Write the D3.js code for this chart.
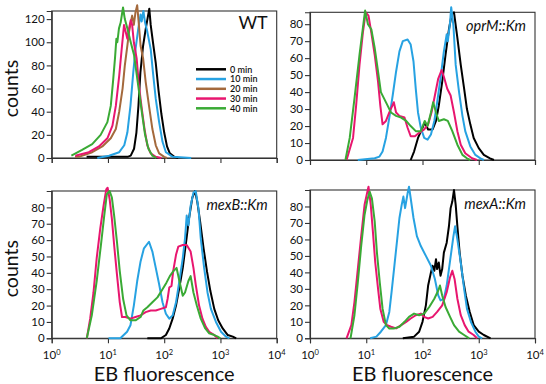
<!DOCTYPE html>
<html><head><meta charset="utf-8">
<script src="https://cdn.jsdelivr.net/npm/d3@7"></script>
<style>
body{margin:0;background:#fff}
svg{display:block}
text{font-family:Lato,"Open Sans",sans-serif;fill:#111}
</style>
</head><body><svg id="c" width="546" height="384"></svg>
<script>
// ---- categories / labels ----
const times = ["0 min","10 min","20 min","30 min","40 min"];
const colors = ["#000000","#27a2e2","#a4693c","#e8166f","#3aaa35"];
const xTickValues = [1,10,100,1000,10000];
const xTickExp = ["0","1","2","3","4"];
const wtTicks = [0,20,40,60,80,100,120];
const mutTicks = [0,10,20,30,40,50,60,70,80];

// ---- data: [log10(EB fluorescence), counts] ----
const wt0 = [[0.62,1],[0.9,1],[1.1,1],[1.25,1],[1.35,1],[1.405,2],[1.464,8],[1.506,22],[1.542,45],[1.577,74],[1.625,97],[1.673,112],[1.72,125],[1.735,129],[1.76,115],[1.80,100],[1.85,82],[1.90,58],[1.95,38],[2.0,22],[2.05,10],[2.10,4],[2.18,1],[2.25,0]];
const wt10 = [[0.81,0],[1.02,2],[1.2,5],[1.29,11],[1.345,22],[1.40,45],[1.45,74],[1.49,94],[1.54,112],[1.58,124],[1.60,118],[1.63,127],[1.66,117],[1.70,109],[1.76,94],[1.80,74],[1.85,51],[1.91,31],[1.97,14],[2.03,5],[2.15,1],[2.48,0]];
const wt20 = [[0.415,1],[0.48,1],[0.72,5],[0.9,10],[1.05,17],[1.14,25],[1.2,40],[1.26,60],[1.30,80],[1.345,97],[1.375,109],[1.405,117],[1.43,123],[1.46,115],[1.49,126],[1.52,132],[1.55,115],[1.58,97],[1.625,86],[1.67,66],[1.73,45],[1.79,25],[1.85,11],[1.91,4],[2.0,1],[2.05,0]];
const wt30 = [[0.42,2],[0.66,5],[0.84,10],[0.99,17],[1.08,28],[1.14,45],[1.2,71],[1.24,92],[1.286,115],[1.315,109],[1.345,103],[1.375,112],[1.405,119],[1.43,115],[1.46,100],[1.51,86],[1.55,63],[1.60,43],[1.65,25],[1.70,11],[1.76,4],[1.85,1],[1.95,0]];
const wt40 = [[0.35,2],[0.54,7],[0.72,12],[0.87,20],[0.99,31],[1.05,45],[1.09,66],[1.125,86],[1.15,103],[1.167,100],[1.196,112],[1.226,117],[1.268,130],[1.30,120],[1.345,112],[1.405,100],[1.464,89],[1.506,74],[1.554,57],[1.61,37],[1.66,20],[1.72,8],[1.79,2],[1.86,0]];

const oprM0 = [[1.79,0],[1.85,5],[1.92,13],[2.0,19],[2.04,22],[2.1,18],[2.18,18],[2.24,23],[2.29,32],[2.35,46],[2.41,62],[2.47,77],[2.52,86],[2.56,87],[2.62,72],[2.68,56],[2.74,42],[2.79,30],[2.85,21],[2.91,13],[3.0,7],[3.09,3],[3.2,1],[3.27,0]];
const oprM10 = [[0.85,0],[1.15,1],[1.235,2],[1.29,5],[1.35,13],[1.41,25],[1.47,38],[1.53,52],[1.59,64],[1.65,70],[1.735,71],[1.79,68],[1.84,58],[1.88,42],[1.92,28],[1.97,19],[2.03,13],[2.09,12],[2.15,15],[2.21,23],[2.26,34],[2.32,48],[2.38,64],[2.43,74],[2.45,70],[2.49,81],[2.51,90],[2.55,79],[2.59,56],[2.65,40],[2.71,26],[2.76,17],[2.85,8],[2.94,3],[3.03,1],[3.09,0]];
const oprM30 = [[0.65,0],[0.765,13],[0.82,32],[0.88,56],[0.94,75],[0.99,87],[1.04,85],[1.09,75],[1.15,62],[1.21,46],[1.25,32],[1.29,21],[1.35,23],[1.41,28],[1.49,34],[1.53,28],[1.59,26],[1.68,25],[1.735,19],[1.79,14],[1.865,14],[1.94,16],[2.03,18],[2.1,21],[2.16,28],[2.22,38],[2.28,48],[2.34,53],[2.38,49],[2.44,42],[2.5,38],[2.56,28],[2.62,17],[2.68,9],[2.76,4],[2.88,1],[2.97,0]];
const oprM40 = [[0.63,0],[0.706,13],[0.79,36],[0.88,62],[0.96,83],[0.98,88],[1.03,80],[1.09,77],[1.15,66],[1.21,52],[1.26,40],[1.32,36],[1.38,32],[1.44,28],[1.53,26],[1.62,25],[1.71,23],[1.79,20],[1.88,17],[1.97,17],[2.04,23],[2.09,20],[2.15,28],[2.19,34],[2.24,28],[2.29,23],[2.38,24],[2.45,23],[2.53,17],[2.62,9],[2.71,3],[2.79,1],[2.85,0]];

const mexB0 = [[1.70,0],[1.94,0],[2.03,2],[2.09,6],[2.15,12],[2.21,20],[2.27,31],[2.33,43],[2.39,59],[2.44,73],[2.50,86],[2.55,90],[2.59,83],[2.64,71],[2.70,55],[2.76,41],[2.82,29],[2.89,18],[2.96,11],[3.04,6],[3.13,2],[3.22,1],[3.28,0]];
const mexB10 = [[1.01,0],[1.22,0],[1.34,4],[1.40,8],[1.46,20],[1.52,35],[1.58,47],[1.64,55],[1.73,59],[1.79,53],[1.85,43],[1.91,33],[1.97,22],[2.03,15],[2.09,12],[2.15,14],[2.21,22],[2.27,35],[2.33,49],[2.37,61],[2.40,75],[2.43,69],[2.47,81],[2.52,89],[2.56,90],[2.61,79],[2.65,61],[2.71,43],[2.77,28],[2.83,18],[2.92,10],[3.01,4],[3.10,1],[3.16,0]];
const mexB30 = [[0.624,0],[0.684,12],[0.743,28],[0.80,49],[0.863,67],[0.922,81],[0.97,91],[0.994,92],[1.03,85],[1.07,73],[1.11,57],[1.16,39],[1.21,22],[1.25,13],[1.31,13],[1.40,12],[1.49,13],[1.58,14],[1.67,16],[1.76,17],[1.85,17],[1.94,18],[2.03,19],[2.06,24],[2.09,31],[2.13,32],[2.16,41],[2.21,51],[2.25,56],[2.33,57],[2.40,57],[2.47,53],[2.52,43],[2.56,33],[2.62,20],[2.68,12],[2.74,7],[2.80,4],[2.89,2],[2.95,0]];
const mexB40 = [[0.624,0],[0.713,14],[0.80,35],[0.875,57],[0.934,75],[0.98,88],[1.03,90],[1.07,86],[1.11,75],[1.16,59],[1.21,41],[1.27,24],[1.33,14],[1.40,11],[1.49,11],[1.58,13],[1.63,17],[1.70,19],[1.79,22],[1.88,25],[1.97,30],[2.04,34],[2.10,38],[2.16,41],[2.22,43],[2.27,35],[2.33,26],[2.37,28],[2.43,35],[2.47,38],[2.52,28],[2.58,20],[2.65,12],[2.73,6],[2.80,3],[2.89,2],[2.95,1],[3.0,0]];

const mexA0 = [[1.65,0],[1.85,1],[1.94,4],[2.0,10],[2.06,20],[2.10,32],[2.15,40],[2.18,44],[2.21,41],[2.24,48],[2.26,42],[2.29,46],[2.32,38],[2.35,42],[2.38,52],[2.43,58],[2.47,68],[2.5,79],[2.53,83],[2.56,90],[2.59,81],[2.62,68],[2.66,52],[2.71,38],[2.77,26],[2.84,16],[2.91,8],[3.0,4],[3.09,2],[3.21,0]];
const mexA10 = [[1.07,0],[1.18,1],[1.26,4],[1.35,8],[1.41,16],[1.45,28],[1.50,44],[1.55,60],[1.59,73],[1.63,81],[1.66,86],[1.69,79],[1.735,88],[1.76,92],[1.79,85],[1.84,73],[1.90,62],[1.97,56],[2.06,50],[2.15,44],[2.22,36],[2.28,26],[2.32,23],[2.38,24],[2.43,32],[2.47,42],[2.51,52],[2.55,62],[2.58,68],[2.62,60],[2.68,46],[2.74,30],[2.79,18],[2.86,10],[2.94,4],[3.0,1],[3.06,0]];
const mexA30 = [[0.65,0],[0.735,8],[0.79,22],[0.85,42],[0.91,62],[0.97,81],[1.02,89],[1.04,92],[1.08,81],[1.12,64],[1.16,46],[1.21,30],[1.25,18],[1.31,10],[1.37,8],[1.44,7],[1.53,6],[1.62,8],[1.71,10],[1.79,12],[1.88,14],[1.97,15],[2.03,13],[2.10,12],[2.18,13],[2.26,16],[2.35,20],[2.43,28],[2.49,37],[2.53,41],[2.57,36],[2.62,24],[2.68,14],[2.75,8],[2.82,4],[2.91,2],[2.97,0]];
const mexA40 = [[0.72,0],[0.79,14],[0.85,34],[0.91,56],[0.97,75],[1.02,84],[1.06,89],[1.10,85],[1.15,71],[1.19,52],[1.24,34],[1.29,18],[1.35,8],[1.41,6],[1.50,6],[1.59,7],[1.68,10],[1.76,13],[1.85,15],[1.94,14],[2.03,15],[2.12,19],[2.21,24],[2.28,29],[2.31,32],[2.35,26],[2.41,19],[2.49,13],[2.56,8],[2.65,4],[2.74,2],[2.83,0]];

// ---- panels ----
const panels = [
  {label:"WT", italic:false, series:[wt0,wt10,wt20,wt30,wt40], keys:[0,1,2,3,4], yMax:127, yTicks:wtTicks,
   left:51.7, right:276.7, top:11, bottom:158, xLabels:false, yTitle:true, legend:true},
  {label:"oprM::Km", italic:true, series:[oprM0,oprM10,oprM30,oprM40], keys:[0,1,3,4], yMax:87, yTicks:mutTicks,
   left:310, right:535, top:12.3, bottom:160, xLabels:false, yTitle:false, legend:false},
  {label:"mexB::Km", italic:true, series:[mexB0,mexB10,mexB30,mexB40], keys:[0,1,3,4], yMax:90, yTicks:mutTicks,
   left:51.7, right:276.7, top:191, bottom:338.3, xLabels:true, yTitle:true, legend:false},
  {label:"mexA::Km", italic:true, series:[mexA0,mexA10,mexA30,mexA40], keys:[0,1,3,4], yMax:90, yTicks:mutTicks,
   left:310, right:535, top:190, bottom:338.3, xLabels:true, yTitle:false, legend:false}
];

const svg = d3.select("#c");

panels.forEach(p => {
  const x = d3.scaleLog().domain([1,10000]).range([p.left,p.right]);
  const y = d3.scaleLinear().domain([0,p.yMax]).range([p.bottom,p.top]);
  const g = svg.append("g");

  // frame
  g.append("rect").attr("x",p.left).attr("y",p.top)
    .attr("width",p.right-p.left).attr("height",p.bottom-p.top)
    .attr("fill","none").attr("stroke","#333").attr("stroke-width",1.1);

  // y axis
  const ya = g.append("g").attr("transform",`translate(${p.left},0)`)
    .call(d3.axisLeft(y).tickValues(p.yTicks).tickSize(5).tickPadding(2));
  ya.select(".domain").attr("stroke","#333").attr("stroke-width",1.1);
  ya.selectAll(".tick line").attr("stroke","#333").attr("stroke-width",1.1);
  ya.selectAll(".tick text").attr("font-size",11.5).attr("font-family","Lato, sans-serif").attr("fill","#111");

  // x axis
  const xa = g.append("g").attr("transform",`translate(0,${p.bottom})`)
    .call(d3.axisBottom(x).tickValues(xTickValues).tickSize(5).tickFormat(""));
  xa.select(".domain").attr("stroke","#333").attr("stroke-width",1.1);
  xa.selectAll(".tick line").attr("stroke","#333").attr("stroke-width",1.1);

  if (p.xLabels) {
    xTickValues.forEach((v,i) => {
      const t = g.append("text").attr("x",x(v)).attr("y",p.bottom+21)
        .attr("text-anchor","middle").attr("font-size",11.5);
      t.append("tspan").text("10");
      t.append("tspan").attr("dy",-4.5).attr("font-size",7.5).text(xTickExp[i]);
    });
    g.append("text").attr("x",(p.left+p.right)/2).attr("y",381)
      .attr("text-anchor","middle").attr("font-size",20).text("EB fluorescence");
  }

  if (p.yTitle) {
    const cy = (p.top+p.bottom)/2 + 4;
    g.append("text").attr("transform",`translate(17.5,${cy}) rotate(-90)`)
      .attr("text-anchor","middle").attr("font-size",19.5).text("counts");
  }

  // lines
  const line = d3.line().x(d => x(10 ** d[0])).y(d => y(d[1]));
  p.series.forEach((s,i) => {
    g.append("path").datum(s).attr("d",line).attr("fill","none")
      .attr("stroke",colors[p.keys[i]]).attr("stroke-width",2)
      .attr("stroke-linejoin","round");
  });

  // panel label
  g.append("text").attr("x",p.right-9).attr("y",p.italic ? p.top+19 : p.top+18)
    .attr("text-anchor","end")
    .attr("font-size",p.italic ? 14.5 : 18)
    .attr("font-style",p.italic ? "italic" : "normal")
    .text(p.label);

  if (p.legend) {
    const lg = g.append("g");
    times.forEach((t,i) => {
      const yy = 69.3 + i*9.75;
      lg.append("line").attr("x1",196).attr("x2",226).attr("y1",yy).attr("y2",yy)
        .attr("stroke",colors[i]).attr("stroke-width",2.5);
      lg.append("text").attr("x",230).attr("y",yy+3.2).attr("font-size",9)
        .attr("font-weight",600).attr("fill","#333").text(t);
    });
  }
});
</script>
</body></html>
